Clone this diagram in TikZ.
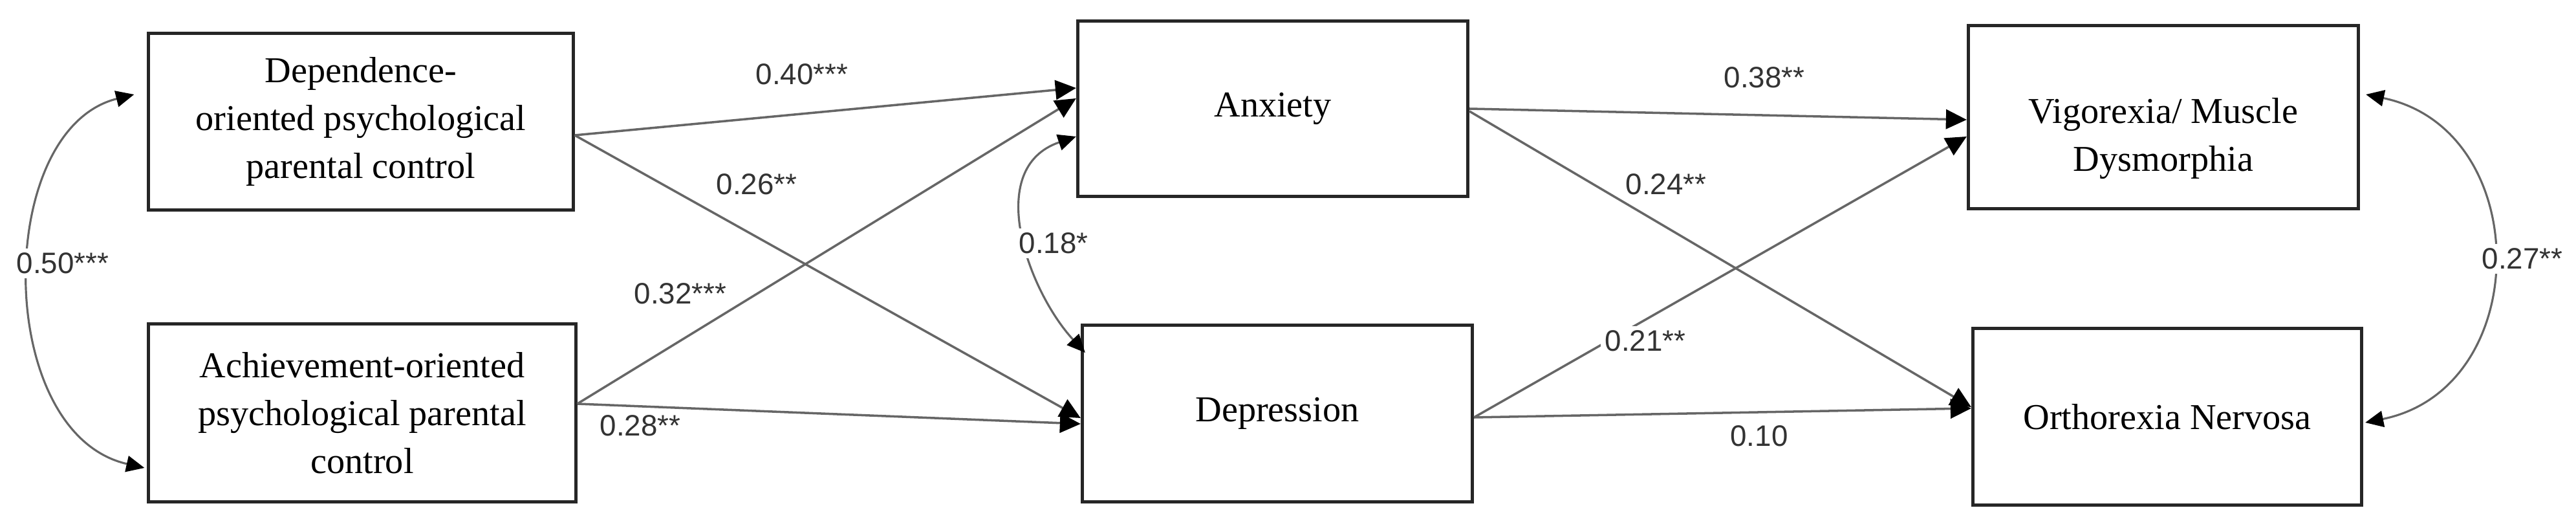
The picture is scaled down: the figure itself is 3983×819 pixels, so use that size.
\documentclass[tikz,border=0pt]{standalone}
\usepackage{fontspec}
\setmainfont{Liberation Serif}
\newfontfamily\labfont{Liberation Sans}
\usetikzlibrary{arrows.meta,calc}
\begin{document}
\begin{tikzpicture}[x=0.01cm,y=-0.01cm,
 box/.style={draw=black!85, line width=1.4pt, align=center, font=\fontsize{16}{21}\selectfont, inner sep=0pt},
 boxtext/.style={align=center, font=\fontsize{16}{21}\selectfont, inner sep=0pt},
 pth/.style={draw=black!60, line width=1pt, -{Triangle[length=0.32cm,width=0.3cm,color=black]}},
 cov/.style={draw=black!60, line width=0.9pt, {Triangle[length=0.28cm,width=0.25cm,color=black]}-{Triangle[length=0.28cm,width=0.25cm,color=black]}},
 lab/.style={font=\labfont\fontsize{13}{13}\selectfont, text=black!80, inner sep=1pt},
 wlab/.style={lab, fill=white, inner sep=2pt}]
\useasboundingbox (0,0) rectangle (3983,819);
\fill[white] (0,0) rectangle (3983,819);
% boxes
\node[box, minimum width=6.56cm, minimum height=2.73cm] (DP) at (558,188) {Dependence-\\oriented psychological\\parental control};
\node[box, minimum width=6.60cm, minimum height=2.74cm] (AP) at (560,638) {Achievement-oriented\\psychological parental\\control};
\node[box, minimum width=6.03cm, minimum height=2.71cm] (Anx) at (1968,168) {Anxiety};
\node[box, minimum width=6.03cm, minimum height=2.72cm] (Dep) at (1975,639) {Depression};
\node[box, minimum width=6.03cm, minimum height=2.83cm] (Vig) at (3345,181) {};
\node[boxtext] (VigT) at ($(Vig.center)+(0,33)$) {Vigorexia/ Muscle\\Dysmorphia};
\node[box, minimum width=6.01cm, minimum height=2.73cm] (Orth) at (3351,644) {Orthorexia Nervosa};
% paths
\draw[pth] ($(DP.east)+(0,21)$) -- ($(Anx.west)+(0,-32)$);
\draw[pth] ($(DP.east)+(0,21)$) -- ($(Dep.west)+(0,7)$);
\draw[pth] ($(AP.east)+(0,-14)$) -- ($(Anx.west)+(0,-16)$);
\draw[pth] ($(AP.east)+(0,-14)$) -- ($(Dep.west)+(0,16)$);
\draw[pth] (Anx.east) -- ($(Vig.west)+(0,4)$);
\draw[pth] ($(Anx.east)+(0,4)$) -- ($(Orth.west)+(0,-15)$);
\draw[pth] ($(Dep.east)+(0,6)$) -- ($(Vig.west)+(0,30)$);
\draw[pth] ($(Dep.east)+(0,6)$) -- ($(Orth.west)+(0,-13)$);
% covariances
\draw[cov] ($(DP.west)+(-20,-42)$) .. controls (-10,200) and (-10,670) .. ($(AP.west)+(-4,85)$);
\draw[cov] ($(Anx.west)+(0,43)$) .. controls (1520,260) and (1590,450) .. ($(Dep.west)+(7,-94)$);
\draw[cov] ($(Vig.east)+(9,-35)$) .. controls (3919,200) and (3919,600) .. ($(Orth.east)+(3,9)$);
% labels
\node[lab] (l40) at (1240,115) {0.40***};
\node[lab] (l26) at (1170,285) {0.26**};
\node[lab] (l32) at (1052,454) {0.32***};
\node[lab] (l28) at (990,658) {0.28**};
\node[lab] (l38) at (2728,120) {0.38**};
\node[wlab] (l24) at (2576,285) {0.24**};
\node[wlab] (l21) at (2544,527) {0.21**};
\node[lab] (l10) at (2720,674) {0.10};
\node[wlab] (l18) at (1629,376) {0.18*};
\node[wlab] (l50) at (97,407) {0.50***};
\node[wlab] (l27) at (3900,400) {0.27**};
\end{tikzpicture}
\end{document}
